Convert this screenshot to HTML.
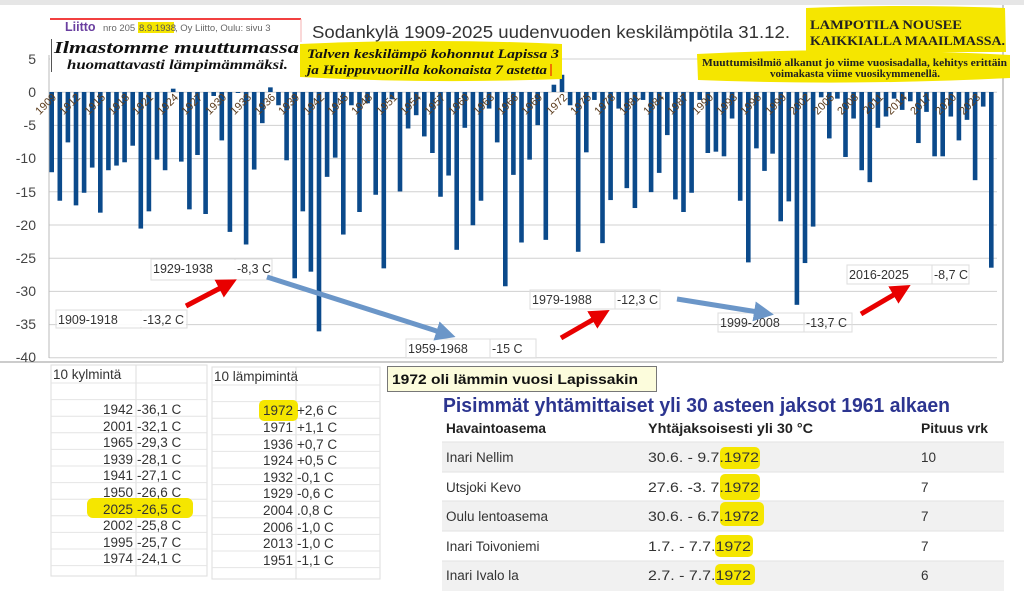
<!DOCTYPE html>
<html><head><meta charset="utf-8"><style>
html,body{margin:0;padding:0;background:#fff;width:1024px;height:591px;overflow:hidden}
svg{display:block;font-family:"Liberation Sans",sans-serif}
.s{font-family:"Liberation Serif",serif;font-weight:bold}
.yl{font-size:11px;fill:#5c3d1e}
.ax{font-size:14px;fill:#444}
.an{font-size:12.5px;fill:#333}
.tb{font-size:13.5px;fill:#333}
.rt{font-size:13.5px;fill:#333}
</style></head><body>
<svg id="s" width="1024" height="591" viewBox="0 0 1024 591" xmlns="http://www.w3.org/2000/svg">
<rect x="0" y="0" width="1024" height="5" fill="#e6e6e6"/>
<line x1="1003" y1="5" x2="1003" y2="362" stroke="#ccc" stroke-width="2"/>
<line x1="0" y1="362" x2="1003" y2="362" stroke="#ccc" stroke-width="2"/>
<g id="grid" stroke="#d0d0d0" stroke-width="1"></g>
<line x1="49" y1="55" x2="49" y2="358" stroke="#bbb"/>
<g class="ax" text-anchor="end">
<text x="36" y="64">5</text><text x="36" y="97">0</text><text x="36" y="130">-5</text>
<text x="36" y="163">-10</text><text x="36" y="197">-15</text><text x="36" y="230">-20</text>
<text x="36" y="263">-25</text><text x="36" y="296">-30</text><text x="36" y="329">-35</text>
<text x="36" y="362">-40</text></g>
<g id="bars" fill="#0b4a8b"></g>
<g class="yl" text-anchor="end">
<text transform="translate(57,98) rotate(-45)">1909</text>
<text transform="translate(81,98) rotate(-45)">1912</text>
<text transform="translate(106,98) rotate(-45)">1915</text>
<text transform="translate(130,98) rotate(-45)">1918</text>
<text transform="translate(154,98) rotate(-45)">1921</text>
<text transform="translate(179,98) rotate(-45)">1924</text>
<text transform="translate(203,98) rotate(-45)">1927</text>
<text transform="translate(227,98) rotate(-45)">1930</text>
<text transform="translate(252,98) rotate(-45)">1933</text>
<text transform="translate(276,98) rotate(-45)">1936</text>
<text transform="translate(300,98) rotate(-45)">1939</text>
<text transform="translate(325,98) rotate(-45)">1942</text>
<text transform="translate(349,98) rotate(-45)">1945</text>
<text transform="translate(373,98) rotate(-45)">1948</text>
<text transform="translate(398,98) rotate(-45)">1951</text>
<text transform="translate(422,98) rotate(-45)">1954</text>
<text transform="translate(446,98) rotate(-45)">1957</text>
<text transform="translate(470,98) rotate(-45)">1960</text>
<text transform="translate(495,98) rotate(-45)">1963</text>
<text transform="translate(519,98) rotate(-45)">1966</text>
<text transform="translate(543,98) rotate(-45)">1969</text>
<text transform="translate(568,98) rotate(-45)">1972</text>
<text transform="translate(592,98) rotate(-45)">1975</text>
<text transform="translate(616,98) rotate(-45)">1978</text>
<text transform="translate(641,98) rotate(-45)">1981</text>
<text transform="translate(665,98) rotate(-45)">1984</text>
<text transform="translate(689,98) rotate(-45)">1987</text>
<text transform="translate(714,98) rotate(-45)">1990</text>
<text transform="translate(738,98) rotate(-45)">1993</text>
<text transform="translate(762,98) rotate(-45)">1996</text>
<text transform="translate(787,98) rotate(-45)">1999</text>
<text transform="translate(811,98) rotate(-45)">2002</text>
<text transform="translate(835,98) rotate(-45)">2005</text>
<text transform="translate(859,98) rotate(-45)">2008</text>
<text transform="translate(884,98) rotate(-45)">2011</text>
<text transform="translate(908,98) rotate(-45)">2014</text>
<text transform="translate(932,98) rotate(-45)">2017</text>
<text transform="translate(957,98) rotate(-45)">2020</text>
<text transform="translate(981,98) rotate(-45)">2023</text>
</g>

<text x="312" y="38" font-size="17.5" fill="#333" textLength="478" lengthAdjust="spacingAndGlyphs">Sodankylä 1909-2025 uudenvuoden keskilämpötila 31.12.</text>

<rect x="50" y="19" width="251" height="54" fill="#fff"/>
<line x1="50" y1="19" x2="301" y2="19" stroke="#e00" stroke-width="1.5"/>
<line x1="301" y1="19" x2="301" y2="42" stroke="#f4b0b0" stroke-width="1"/>
<text x="65" y="31" font-size="12.5" font-weight="bold" fill="#6a3fa0">Liitto</text>
<text x="103" y="31" font-size="9.5" fill="#666">nro 205 </text>
<rect x="138" y="22" width="36" height="11" fill="#f5e600"/>
<text x="139" y="31" font-size="9.5" fill="#555">8.9.1938</text>
<text x="175" y="31" font-size="9.5" fill="#666">, Oy Liitto, Oulu: sivu 3</text>
<line x1="51.5" y1="39" x2="51.5" y2="72" stroke="#555"/>
<text x="54" y="53" class="s" font-style="italic" font-size="17" fill="#111" textLength="245" lengthAdjust="spacingAndGlyphs">Ilmastomme muuttumassa</text>
<text x="67" y="69" class="s" font-style="italic" font-size="14" fill="#111" textLength="221" lengthAdjust="spacingAndGlyphs">huomattavasti lämpimämmäksi.</text>

<path d="M300,44 Q430,38 562,44 L562,79 Q430,84 300,77 Z" fill="#f5e600"/>
<text x="307" y="58" class="s" font-style="italic" font-size="13" fill="#111" textLength="252" lengthAdjust="spacingAndGlyphs">Talven keskilämpö kohonnut Lapissa 3</text>
<text x="307" y="74" class="s" font-style="italic" font-size="13" fill="#111" textLength="240" lengthAdjust="spacingAndGlyphs">ja Huippuvuorilla kokonaista 7 astetta</text>
<line x1="551" y1="64" x2="551" y2="76" stroke="#e00"/>

<path d="M806,8 Q900,4 1005,8 L1006,52 L806,52 Z" fill="#f5e600"/>
<path d="M697,54 Q850,46 1010,55 L1010,78 Q850,86 698,80 Z" fill="#f5e600"/>
<text x="810" y="29" class="s" font-size="13" fill="#222" textLength="152" lengthAdjust="spacingAndGlyphs">LAMPOTILA NOUSEE</text>
<text x="810" y="45" class="s" font-size="13" fill="#222" textLength="195" lengthAdjust="spacingAndGlyphs">KAIKKIALLA MAAILMASSA.</text>
<text x="702" y="66" class="s" font-size="10" fill="#222" textLength="305" lengthAdjust="spacingAndGlyphs">Muuttumisilmiö alkanut jo viime vuosisadalla, kehitys erittäin</text>
<text x="770" y="77" class="s" font-size="10" fill="#222" textLength="170" lengthAdjust="spacingAndGlyphs">voimakasta viime vuosikymmenellä.</text>

<g stroke="#ddd" fill="none">
<rect x="56" y="310" width="131" height="18"/><line x1="141" y1="310" x2="141" y2="328"/>
<rect x="151" y="259" width="121" height="21"/><line x1="235" y1="259" x2="235" y2="280"/>
<rect x="406" y="339" width="130" height="19"/><line x1="490" y1="339" x2="490" y2="358"/>
<rect x="530" y="290" width="130" height="19"/><line x1="615" y1="290" x2="615" y2="309"/>
<rect x="718" y="313" width="134" height="19"/><line x1="804" y1="313" x2="804" y2="332"/>
<rect x="847" y="265" width="122" height="19"/><line x1="932" y1="265" x2="932" y2="284"/>
</g>
<g class="an">
<rect x="57" y="311" width="129" height="16" fill="#fff" opacity="0.9"/>
<text x="58" y="324">1909-1918</text><text x="143" y="324">-13,2 C</text>
<rect x="152" y="260" width="119" height="19" fill="#fff" opacity="0.9"/>
<text x="153" y="273">1929-1938</text><text x="237" y="273">-8,3 C</text>
<text x="408" y="353">1959-1968</text><text x="492" y="353">-15 C</text>
<text x="532" y="304">1979-1988</text><text x="617" y="304">-12,3 C</text>
<text x="720" y="327">1999-2008</text><text x="806" y="327">-13,7 C</text>
<text x="849" y="279">2016-2025</text><text x="934" y="279">-8,7 C</text>
</g>

<defs>
<marker id="ra" markerWidth="4" markerHeight="4" refX="2" refY="2" orient="auto"><path d="M0,0 L4,2 L0,4 Z" fill="#e80000"/></marker>
<marker id="ba" markerWidth="4" markerHeight="4" refX="2" refY="2" orient="auto"><path d="M0,0 L4,2 L0,4 Z" fill="#6b96c8"/></marker>
</defs>
<line x1="186" y1="306" x2="228" y2="284" stroke="#e80000" stroke-width="5" marker-end="url(#ra)"/>
<line x1="561" y1="338" x2="601" y2="315" stroke="#e80000" stroke-width="5" marker-end="url(#ra)"/>
<line x1="861" y1="314" x2="902" y2="290" stroke="#e80000" stroke-width="5" marker-end="url(#ra)"/>
<line x1="267" y1="277" x2="446" y2="334" stroke="#6b96c8" stroke-width="5" marker-end="url(#ba)"/>
<line x1="677" y1="299" x2="764" y2="313" stroke="#6b96c8" stroke-width="5" marker-end="url(#ba)"/>

<g stroke="#ddd" fill="none">
<rect x="51" y="365" width="156" height="211"/>
<line x1="136" y1="365" x2="136" y2="576"/>
<rect x="212" y="367" width="168" height="212"/>
<line x1="296" y1="367" x2="296" y2="579"/>
</g>
<g id="tl" stroke="#e4e4e4"></g>
<rect x="87" y="498" width="106" height="20" rx="6" fill="#f5e600"/>
<rect x="259" y="400" width="39" height="21" rx="5" fill="#f5e600"/>
<text x="53" y="379" class="tb">10 kylmintä</text>
<text x="214" y="381" class="tb">10 lämpimintä</text>
<g class="tb" text-anchor="end">
<text x="133" y="414">1942</text><text x="133" y="431">2001</text><text x="133" y="447">1965</text>
<text x="133" y="464">1939</text><text x="133" y="480">1941</text><text x="133" y="497">1950</text>
<text x="133" y="514">2025</text><text x="133" y="530">2002</text><text x="133" y="547">1995</text>
<text x="133" y="563">1974</text>
<text x="293" y="415">1972</text><text x="293" y="432">1971</text><text x="293" y="449">1936</text>
<text x="293" y="465">1924</text><text x="293" y="482">1932</text><text x="293" y="498">1929</text>
<text x="293" y="515">2004</text><text x="293" y="532">2006</text><text x="293" y="548">2013</text>
<text x="293" y="565">1951</text>
</g>
<g class="tb">
<text x="137" y="414">-36,1 C</text><text x="137" y="431">-32,1 C</text><text x="137" y="447">-29,3 C</text>
<text x="137" y="464">-28,1 C</text><text x="137" y="480">-27,1 C</text><text x="137" y="497">-26,6 C</text>
<text x="137" y="514">-26,5 C</text><text x="137" y="530">-25,8 C</text><text x="137" y="547">-25,7 C</text>
<text x="137" y="563">-24,1 C</text>
<text x="297" y="415">+2,6 C</text><text x="297" y="432">+1,1 C</text><text x="297" y="449">+0,7 C</text>
<text x="297" y="465">+0,5 C</text><text x="297" y="482">-0,1 C</text><text x="297" y="498">-0,6 C</text>
<text x="297" y="515">.0,8 C</text><text x="297" y="532">-1,0 C</text><text x="297" y="548">-1,0 C</text>
<text x="297" y="565">-1,1 C</text>
</g>

<rect x="387.5" y="366.5" width="269" height="25" fill="#fcfcdc" stroke="#777"/>
<text x="392" y="384" font-size="14" font-weight="bold" fill="#111" textLength="246" lengthAdjust="spacingAndGlyphs">1972 oli lämmin vuosi Lapissakin</text>

<text x="443" y="412" font-size="20" font-weight="bold" fill="#2c3590" textLength="507" lengthAdjust="spacingAndGlyphs">Pisimmät yhtämittaiset yli 30 asteen jaksot 1961 alkaen</text>
<g font-size="13.5" font-weight="bold" fill="#222">
<text x="446" y="433" textLength="100" lengthAdjust="spacingAndGlyphs">Havaintoasema</text>
<text x="648" y="433" textLength="165" lengthAdjust="spacingAndGlyphs">Yhtäjaksoisesti yli 30 °C</text>
<text x="921" y="433" textLength="67" lengthAdjust="spacingAndGlyphs">Pituus vrk</text>
</g>
<rect x="442" y="442" width="562" height="30" fill="#f1f1f1"/>
<rect x="442" y="501" width="562" height="30" fill="#f1f1f1"/>
<rect x="442" y="561" width="562" height="30" fill="#f1f1f1"/>
<g stroke="#e2e2e2"><line x1="442" y1="442" x2="1004" y2="442"/><line x1="442" y1="472" x2="1004" y2="472"/><line x1="442" y1="501" x2="1004" y2="501"/><line x1="442" y1="531" x2="1004" y2="531"/><line x1="442" y1="561" x2="1004" y2="561"/></g>
<g fill="#f5e600">
<rect x="720" y="447" width="40" height="22" rx="5"/>
<rect x="720" y="474" width="40" height="26" rx="5"/>
<rect x="720" y="502" width="44" height="24" rx="5"/>
<rect x="715" y="535" width="38" height="22" rx="5"/>
<rect x="715" y="564" width="40" height="21" rx="5"/>
</g>
<g class="rt">
<text x="446" y="462">Inari Nellim</text><text x="648" y="462" textLength="111" lengthAdjust="spacingAndGlyphs">30.6. - 9.7.1972</text><text x="921" y="462">10</text>
<text x="446" y="492">Utsjoki Kevo</text><text x="648" y="492" textLength="111" lengthAdjust="spacingAndGlyphs">27.6. -3. 7.1972</text><text x="921" y="492">7</text>
<text x="446" y="521">Oulu lentoasema</text><text x="648" y="521" textLength="111" lengthAdjust="spacingAndGlyphs">30.6. - 6.7.1972</text><text x="921" y="521">7</text>
<text x="446" y="551">Inari Toivoniemi</text><text x="648" y="551" textLength="103" lengthAdjust="spacingAndGlyphs">1.7. - 7.7.1972</text><text x="921" y="551">7</text>
<text x="446" y="580">Inari Ivalo la</text><text x="648" y="580" textLength="103" lengthAdjust="spacingAndGlyphs">2.7. - 7.7.1972</text><text x="921" y="580">6</text>
</g>
</svg>
<script>
var v=[-12.1,-16.4,-7.6,-17.1,-15.2,-11.4,-18.2,-11.8,-11.1,-10.6,-8.1,-20.6,-18,-10.2,-11.8,0.5,-10.5,-17.7,-9.5,-18.4,-0.6,-7.3,-21.1,-0.1,-23,-11.7,-4.7,0.7,-2,-10.3,-28.1,-18,-27.1,-36.1,-12.8,-9.9,-21.5,-2,-18.1,-1.7,-15.5,-26.6,-1.1,-15,-5.5,-3.5,-6.7,-9.2,-15.8,-12.6,-23.8,-5.4,-20.1,-16.4,-2.5,-7.6,-29.3,-12.5,-22.7,-10.2,-5,-22.3,1.1,2.6,-2,-24.1,-9.1,-1.2,-22.8,-16.3,-2.5,-14.5,-17.5,-1.2,-15.1,-12.2,-6.5,-16.2,-18.1,-15.2,-1.2,-9.2,-9,-9.7,-4,-16.4,-25.7,-8.5,-11.9,-9.3,-19.5,-16.5,-32.1,-25.8,-20.3,-0.8,-7,-1,-9.8,-4,-11.8,-13.6,-5.4,-3.7,-1,-2.7,-1.4,-7.7,-3,-9.7,-9.7,-3.7,-7.3,-4.2,-13.3,-2.2,-26.5];
var ns="http://www.w3.org/2000/svg",b=document.getElementById("bars"),g=document.getElementById("grid"),t=document.getElementById("tl");
function el(p,n,a){var e=document.createElementNS(ns,n);for(var k in a)e.setAttribute(k,a[k]);p.appendChild(e);}
for(var i=0;i<=9;i++){var y=59+i*33.2;el(g,"line",{x1:49,y1:y,x2:997,y2:y});}
var z=92,s=6.63;
v.forEach(function(d,i){var x=51.7+i*8.1-2.3;var y1=d>0?z-d*s:z,h=Math.abs(d)*s;el(b,"rect",{x:x,y:y1,width:4.6,height:Math.max(h,1)});});
for(var r=0;r<12;r++){var y=383+r*16.6;el(t,"line",{x1:51,y1:y,x2:207,y2:y});el(t,"line",{x1:212,y1:y+2,x2:380,y2:y+2});}
</script>
</body></html>
